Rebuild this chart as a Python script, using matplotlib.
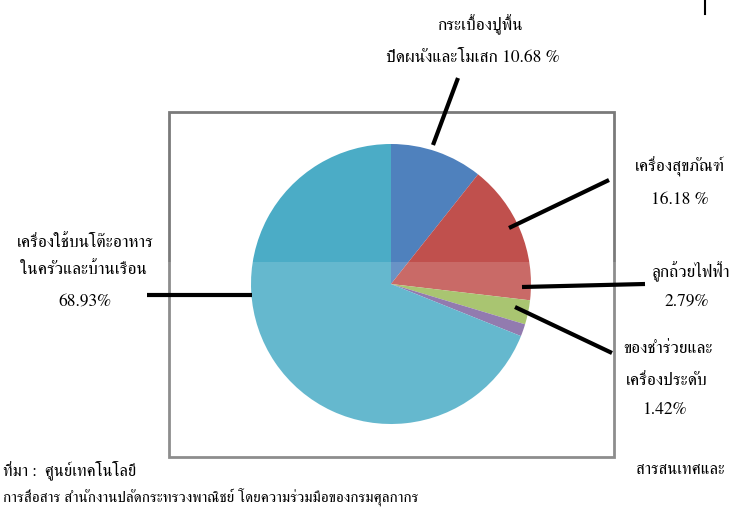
import matplotlib
matplotlib.use("Agg")
import matplotlib.pyplot as plt
from matplotlib import font_manager
from matplotlib.ft2font import FT2Font

# pick an installed font that has Thai glyphs, serif if there is one
thai_fonts = []
for f in font_manager.fontManager.ttflist:
    try:
        if FT2Font(f.fname).get_char_index(ord("ก")):
            thai_fonts.append(f.name)
    except Exception:
        pass
serif = [n for n in thai_fonts if "Serif" in n or "Norasi" in n]
thai_font = serif[0] if serif else (thai_fonts[0] if thai_fonts else None)
plt.rcParams["font.family"] = [thai_font, "DejaVu Sans"] if thai_font else ["DejaVu Sans"]

labels = ["กระเบื้องปูพื้น", "เครื่องสุขภัณฑ์", "ลูกถ้วยไฟฟ้า", "ของชำร่วยและเครื่องประดับ",
          "เครื่องใช้บนโต๊ะอาหารในครัวและบ้านเรือน"]
shares = [10.68, 16.18, 2.79, 1.42, 68.93]
colors = ["#4F81BD", "#C0504D", "#9BBB59", "#8064A2", "#4BACC6"]

fig = plt.figure(figsize=(7.36, 5.07), dpi=100)
ax = fig.add_axes([0, 0, 1, 1])

# y axis runs downward, so counterclock=True draws clockwise on screen
ax.pie(shares, colors=colors, startangle=-90, counterclock=True,
       center=(391, 284), radius=140, frame=True,
       wedgeprops={"linewidth": 0})
ax.set_xlim(0, 736)
ax.set_ylim(507, 0)
ax.set_aspect("equal")
ax.axis("off")

# frame
ax.add_patch(plt.Rectangle((169, 112), 445, 345, fill=False, ec="#7a7a7a", lw=2))

# faint lighter band over the lower half (scan watermark)
ax.add_patch(plt.Rectangle((0, 262), 736, 245, fc="white", ec="none", alpha=0.15, zorder=3))

# leader lines
lk = dict(color="black", lw=3, solid_capstyle="butt", zorder=4)
ax.plot([433, 458], [145, 78], **lk)
ax.plot([509, 609], [228, 180], **lk)
ax.plot([522, 645], [287, 284], **lk)
ax.plot([515, 612], [307, 353], **lk)
ax.plot([252, 147], [295, 295], **lk)
ax.plot([705, 705], [0, 14], color="black", lw=1.5)

fs = 12.5
tk = dict(fontsize=fs, ha="center", va="center", color="black", zorder=5)
ax.text(480, 25, "กระเบื้องปูพื้น", **tk)
ax.text(473, 58, "ปิดผนังและโมเสก 10.68 %", **tk)
ax.text(680, 167, "เครื่องสุขภัณฑ์", **tk)
ax.text(680, 200, "16.18 %", **tk)
ax.text(85, 243, "เครื่องใช้บนโต๊ะอาหาร", **tk)
ax.text(83, 270, "ในครัวและบ้านเรือน", **tk)
ax.text(85, 302, "68.93%", **tk)
ax.text(690, 272, "ลูกถ้วยไฟฟ้า", **tk)
ax.text(687, 302, "2.79%", **tk)
ax.text(668, 349, "ของชำร่วยและ", **tk)
ax.text(667, 381, "เครื่องประดับ", **tk)
ax.text(664, 410, "1.42%", **tk)

ax.text(3, 470, "ที่มา :  ศูนย์เทคโนโลยี", fontsize=12, ha="left", va="center")
ax.text(636, 470, "สารสนเทศและ", fontsize=12, ha="left", va="center")
ax.text(3, 497, "การสื่อสาร สำนักงานปลัดกระทรวงพาณิชย์ โดยความร่วมมือของกรมศุลกากร",
        fontsize=11, ha="left", va="center")

fig.savefig("out.png", dpi=100)
